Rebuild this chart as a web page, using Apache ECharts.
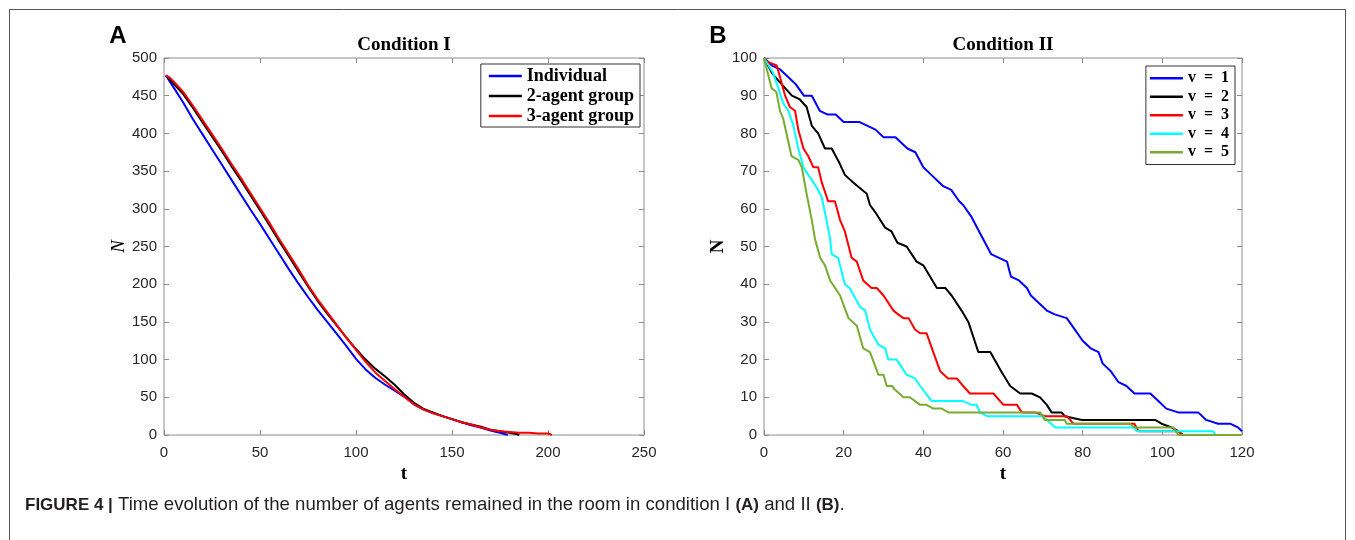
<!DOCTYPE html>
<html>
<head>
<meta charset="utf-8">
<script src="https://cdn.jsdelivr.net/npm/echarts@6/dist/echarts.min.js"></script>
<style>
  html, body { margin: 0; padding: 0; background: #fff; }
  #chart { width: 1355px; height: 540px; }
</style>
</head>
<body>
<div id="chart"></div>
<script>
// ---------- Panel A: Condition I  ([t, N]) ----------
const individual = [[1,477],[5,461],[10,441],[15,419],[20,399],[25,379],[30,359],[35,339],[40,319],[45,299],[50,280],[55,260],[60,240],[65,220],[70,201],[75,183],[80,166],[85,150],[90,134],[95,118],[100,101],[105,87],[110,76],[115,67],[120,59],[125,51],[130,41],[135,34],[140,29],[145,25],[150,21],[155,17],[160,13],[165,10],[170,6],[175,3],[179,0]];
const twoAgent = [[1,477],[5,466],[10,452],[15,434],[20,415],[25,396],[30,377],[35,357],[40,338],[45,318],[50,298],[55,278],[60,257],[65,237],[70,217],[75,197],[80,178],[85,161],[90,145],[95,129],[100,114],[105,100],[110,88],[115,78],[120,67],[125,54],[130,43],[135,35],[140,30],[145,25],[150,21],[155,17],[160,14],[165,11],[170,7],[175,5],[180,3],[184,1],[185,0]];
const threeAgent = [[1,477],[3,474],[5,469],[10,455],[15,437],[20,418],[25,399],[30,380],[35,360],[40,341],[45,321],[50,301],[55,281],[60,260],[65,240],[70,220],[75,199],[80,180],[85,163],[90,146],[95,129],[100,113],[105,97],[110,83],[115,72],[120,61],[125,51],[130,41],[135,34],[140,29],[145,25],[150,21],[155,17],[160,14],[165,10],[170,7],[175,5],[180,4],[185,3],[190,3],[195,2],[200,2],[202,0]];
const namesA = ['Individual', '2-agent group', '3-agent group'];
const colorsA = ['#0000ff', '#000000', '#ff0000'];

// ---------- Panel B: Condition II  ([t, N]) ----------
const v1 = [[0,100],[2,98],[4,97],[6,95],[8,93],[10,90],[12,90],[14,86],[16,85],[18,85],[20,83],[24,83],[26,82],[28,81],[30,79],[33,79],[36,76],[38,75],[40,71],[42,69],[44,67],[45,66],[47,65],[49,62],[50,61],[52,58],[54,54],[55,52],[57,48],[59,47],[61,46],[62,42],[64,41],[66,39],[67,37],[69,35],[71,33],[73,32],[76,31],[78,28],[80,25],[82,23],[84,22],[85,19],[87,17],[89,14],[91,13],[93,11],[97,11],[99,9],[101,7],[104,6],[109,6],[111,4],[114,3],[117,3],[119,2],[120,1]];
const v2 = [[0,100],[2,96],[3.6,94],[5.3,92],[7,90],[9,89],[10.7,87],[12,82],[13.6,80],[15.3,76],[17,76],[19,72],[20.3,69],[22.4,67],[25.8,64],[26.6,61],[28,59],[30.4,55],[32,54],[33.5,51],[35.8,50],[38.3,46],[40,45],[43.4,39],[45.5,39],[47.1,37],[49.6,33],[51.3,30],[53.8,22],[56.8,22],[59.5,17],[61.8,13],[64.3,11],[67.2,11],[69.3,10],[71,8],[72.2,6],[74.7,6],[75.5,5],[79.8,4],[98.2,4],[99.8,3],[102.3,2],[104,1],[105.3,0]];
const v3 = [[0,100],[0.8,99],[3.2,98],[4,95],[5.3,90],[6.5,87],[7.8,86],[8.6,81],[9.9,76],[11.1,74],[12.4,71],[13.6,71],[14.5,67],[16.1,62],[17.8,62],[19.1,57],[20.3,54],[22,47],[23.3,46],[24.9,41],[27,39],[28.3,39],[30,37],[32.5,33],[33.7,32],[35,31],[36.3,31],[37.9,28],[39.2,27],[40.8,27],[42.5,22],[44.2,17],[46.2,15],[48.4,15],[50,13],[51.7,11],[57.6,11],[60.1,8],[63.5,8],[64.7,6],[68,6],[70.5,5],[76,5],[77.7,3],[93,3],[94,1],[104,1],[105,0]];
const v4 = [[0,100],[2.3,96],[3.6,92],[4.8,88],[6.1,86],[7.4,82],[8.6,76],[9.9,71],[11.1,69],[12.4,67],[13.6,65],[14.5,63],[15.7,57],[16.6,52],[17,48],[18.6,47],[20.3,40],[21.5,39],[24.1,34],[25.4,33],[26.6,28],[28.7,24],[30.4,23],[31.2,20],[33.3,20],[35.8,16],[37.9,15],[39.2,13],[42.1,9],[50,9],[52.1,8],[53.4,8],[54.2,6],[56,5],[70,5],[73.1,2],[92.8,2],[93.6,1],[112.8,1],[113.3,0]];
const v5 = [[0,100],[1.9,92],[3.1,91],[4,86],[4.8,84],[6.9,74],[8.6,73],[9.5,71],[10.7,64],[12,57],[12.8,52],[14.1,47],[15.3,45],[16.6,41],[19.1,37],[21.2,31],[23.3,29],[24.9,23],[26.6,22],[28.7,16],[30,16],[30.8,13],[32.1,13],[32.9,12],[35,10],[36.6,10],[39.2,8],[40.8,8],[42.5,7],[44.6,7],[46.3,6],[69.3,6],[70.5,4],[75.5,4],[76,3],[91.9,3],[93.1,2],[102.8,2],[104,0],[120,0]];
const namesB = ['v  =  1', 'v  =  2', 'v  =  3', 'v  =  4', 'v  =  5'];
const colorsB = ['#0000ff', '#000000', '#ff0000', '#00ffff', '#77ac30'];

// ---------- Tick settings ----------
const xTicksA = { min: 0, max: 250, interval: 50 };
const yTicksA = { min: 0, max: 500, interval: 50 };
const xTicksB = { min: 0, max: 120, interval: 20 };
const yTicksB = { min: 0, max: 100, interval: 10 };

const BOX = '#8c8c8c';
const TICKTXT = '#262626';
const labelFont = { fontFamily: 'Liberation Sans', fontSize: 15, color: TICKTXT };

function mainAxis(grid, ticks, isX, name, nameStyle, nameGap) {
  return Object.assign({
    type: 'value', gridIndex: grid, position: isX ? 'bottom' : 'left',
    name: name, nameLocation: 'middle', nameGap: nameGap,
    nameTextStyle: nameStyle,
    axisLine: { show: false, onZero: false },
    axisTick: { show: true, inside: true, length: 5, lineStyle: { color: BOX } },
    axisLabel: Object.assign({ margin: isX ? 10 : 7 }, labelFont),
    splitLine: { show: false }
  }, ticks);
}
function mirrorAxis(grid, ticks, pos) {
  return Object.assign({
    type: 'value', gridIndex: grid, position: pos,
    axisLine: { show: false, onZero: false },
    axisTick: { show: true, inside: true, length: 5, lineStyle: { color: BOX } },
    axisLabel: { show: false },
    splitLine: { show: false }
  }, ticks);
}

const tName = { fontFamily: 'Liberation Serif', fontWeight: 'bold', fontSize: 19, color: '#000' };
const nNameA = { fontFamily: 'Liberation Serif', fontStyle: 'italic', fontSize: 19, color: '#000' };
const nNameB = { fontFamily: 'Liberation Serif', fontWeight: 'bold', fontSize: 19, color: '#000' };

const seriesA = [individual, twoAgent, threeAgent].map((d, i) => ({
  name: namesA[i], type: 'line', xAxisIndex: 0, yAxisIndex: 0, data: d,
  showSymbol: false, symbol: 'none', lineStyle: { width: 2, color: colorsA[i] },
  itemStyle: { color: colorsA[i] }, z: 2 + i, animation: false
}));
const seriesB = [v1, v2, v3, v4, v5].map((d, i) => ({
  name: namesB[i], type: 'line', xAxisIndex: 2, yAxisIndex: 2, data: d,
  showSymbol: false, symbol: 'none', lineStyle: { width: 2, color: colorsB[i] },
  itemStyle: { color: colorsB[i] }, z: 2 + i, animation: false
}));

const legendCommon = {
  orient: 'vertical', icon: 'rect', itemWidth: 33, itemHeight: 2.5, itemGap: 2,
  backgroundColor: '#fff', borderColor: '#333', borderWidth: 1,
  selectedMode: false
};

const option = {
  animation: false,
  backgroundColor: '#fff',
  grid: [
    { left: 164, top: 58, width: 480, height: 377, show: true, borderColor: BOX, borderWidth: 1, backgroundColor: 'transparent' },
    { left: 764, top: 58, width: 478, height: 377, show: true, borderColor: BOX, borderWidth: 1, backgroundColor: 'transparent' }
  ],
  xAxis: [
    mainAxis(0, xTicksA, true, 't', tName, 30),
    mirrorAxis(0, xTicksA, 'top'),
    mainAxis(1, xTicksB, true, 't', tName, 30),
    mirrorAxis(1, xTicksB, 'top')
  ],
  yAxis: [
    mainAxis(0, yTicksA, false, 'N', nNameA, 36),
    mirrorAxis(0, yTicksA, 'right'),
    mainAxis(1, yTicksB, false, 'N', nNameB, 36),
    mirrorAxis(1, yTicksB, 'right')
  ],
  legend: [
    Object.assign({}, legendCommon, { data: namesA, right: 715, top: 64, padding: [3, 6, 2, 8],
      textStyle: { fontFamily: 'Liberation Serif', fontWeight: 'bold', fontSize: 18, color: '#000', lineHeight: 16.5 } }),
    Object.assign({}, legendCommon, { data: namesB, right: 120, top: 66, padding: [4, 6, 4, 4],
      textStyle: { fontFamily: 'Liberation Serif', fontWeight: 'bold', fontSize: 16, color: '#000', lineHeight: 16.5 } })
  ],
  series: seriesA.concat(seriesB),
  graphic: [
    { type: 'rect', shape: { x: 9.5, y: 9.5, width: 1336, height: 560 }, style: { fill: 'none', stroke: '#555', lineWidth: 1 }, silent: true },
    { type: 'text', x: 118, y: 36, style: { text: 'A', font: 'bold 24px "Liberation Sans"', fill: '#000', textAlign: 'center', textVerticalAlign: 'middle' } },
    { type: 'text', x: 718, y: 36, style: { text: 'B', font: 'bold 24px "Liberation Sans"', fill: '#000', textAlign: 'center', textVerticalAlign: 'middle' } },
    { type: 'text', x: 404, y: 45, style: { text: 'Condition I', font: 'bold 19px "Liberation Serif"', fill: '#000', textAlign: 'center', textVerticalAlign: 'middle' } },
    { type: 'text', x: 1003, y: 45, style: { text: 'Condition II', font: 'bold 19px "Liberation Serif"', fill: '#000', textAlign: 'center', textVerticalAlign: 'middle' } },
    { type: 'text', x: 25, y: 505, style: {
        text: '{b|FIGURE 4 |} Time evolution of the number of agents remained in the room in condition I {b|(A)} and II {b|(B)}.',
        font: '18.6px "Liberation Sans"', fill: '#231f20', textVerticalAlign: 'middle',
        rich: { b: { fontWeight: 'bold', fontFamily: 'Liberation Sans', fontSize: 17, fill: '#231f20', color: '#231f20' } }
      } }
  ]
};

const chart = echarts.init(document.getElementById('chart'), null, { renderer: 'canvas' });
chart.setOption(option);
</script>
</body>
</html>
